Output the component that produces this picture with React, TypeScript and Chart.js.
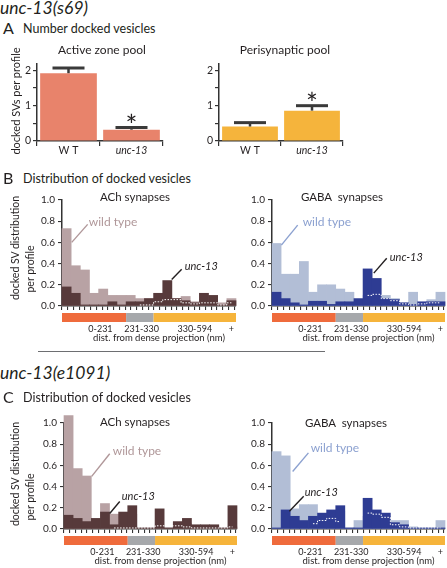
import React, { useEffect, useRef } from "react";
import { Chart, registerables } from "chart.js";

Chart.register(...registerables);

const FONT = "Lato, 'Open Sans', sans-serif";
const INK = "#231f20";
const AXIS = "#333333";

// ---------------- data: panel A ----------------
const poolGroups = ["W T", "unc-13"];
const activeZoneMean = [1.92, 0.32];
const activeZoneErrTop = [2.07, 0.38];
const perisynapticMean = [0.41, 0.86];
const perisynapticErrTop = [0.52, 1.0];
const poolSignificant = [false, true];

// ---------------- data: histograms ----------------
const distanceBins = ["0", "33", "66", "99", "132", "165", "198", "231", "264", "297", "330", "363", "396", "429", "462", "495", "528", "561", "594+"];
const distanceRegions = ["0-231", "231-330", "330-594", "+"];
const regionFirstBin = [0, 7, 10];
const regionLastBin = [6, 9, 18];
const histYTicks = [0, 0.2, 0.4, 0.6, 0.8, 1.0];

const achS69WildType = [0.73, 0.38, 0.34, 0.12, 0.16, 0.10, 0.10, 0.10, 0.07, 0.07, 0.06, 0.07, 0.07, 0.09, 0.04, 0.06, 0.05, 0.03, 0.07];
const achS69Unc13 = [0.18, 0.12, 0.01, 0.01, 0.01, 0.04, 0.01, 0.04, 0.04, 0.07, 0.12, 0.24, 0.07, 0.05, 0.03, 0.12, 0.10, 0.01, 0.05];
const achS69Dotted = [null, null, null, null, null, null, null, null, 0.01, 0.01, 0.04, 0.06, 0.06, 0.03, 0.02, 0.03, 0.03, 0.01, 0.03];

const gabaS69WildType = [0.59, 0.30, 0.30, 0.42, 0.13, 0.20, 0.20, 0.16, 0.13, 0.06, 0.10, 0.11, 0.10, 0.07, 0.03, 0.13, 0.03, 0.06, 0.13];
const gabaS69Unc13 = [0.13, 0.07, 0.03, 0.01, 0.045, 0.045, 0.015, 0.04, 0.04, 0.07, 0.35, 0.26, 0.07, 0.06, 0.03, 0.015, 0.04, 0.04, 0.04];
const gabaS69Dotted = [null, null, null, null, null, null, null, null, null, null, 0.10, 0.11, 0.07, 0.05, 0.02, 0.01, 0.02, 0.03, 0.03];

const achE1091WildType = [1.07, 0.57, 0.50, 0.08, 0.24, 0.14, 0.12, 0.14, 0.01, 0.01, 0.02, 0.01, 0.06, 0.05, 0.02, 0.02, 0.02, 0.01, 0.02];
const achE1091Unc13 = [0.13, 0.10, 0.07, 0.10, 0.16, 0.04, 0.16, 0.22, 0.01, 0.01, 0.19, 0.01, 0.07, 0.10, 0.04, 0.04, 0.04, 0.01, 0.22];
const achE1091Dotted = [null, null, null, null, null, 0.01, 0.01, 0.01, 0.01, 0.01, 0.03, 0.03, 0.03, 0.02, 0.01, 0.01, 0.01, 0.01, 0.02];

const gabaE1091WildType = [0.73, 0.69, 0.19, 0.23, 0.23, 0.13, 0.15, 0.17, 0.01, 0.08, 0.12, 0.13, 0.12, 0.08, 0.08, 0.02, 0.01, 0.01, 0.08];
const gabaE1091Unc13 = [0.01, 0.18, 0.12, 0.08, 0.12, 0.15, 0.18, 0.22, 0.01, 0.01, 0.29, 0.18, 0.15, 0.06, 0.04, 0.01, 0.01, 0.01, 0.01];
const gabaE1091Dotted = [null, null, null, null, 0.05, 0.08, 0.10, 0.07, null, null, 0.15, 0.14, 0.11, 0.04, 0.02, 0.01, 0.01, 0.01, 0.01];

// ---------------- styles / layout ----------------
const COLORS = {
  activeZone: "#e8836b",
  perisynaptic: "#f5b43c",
  achLight: "#b8a2a4",
  achDark: "#573a3b",
  gabaLight: "#b2bed6",
  gabaDark: "#2e3c93",
  achNote: "#b09799",
  gabaNote: "#8ca1d0",
  bands: ["#ef6b3c", "#a6a8ab", "#f6b43b"],
};
const regionLabelAt = [3.7, 8.2, 14.0, 18.0];
const axisTitleAt = 10.1;

type Note = { text: string; x: number; y: number; color: string; italic?: boolean; size: number; line: number[] };

function notes(wtColor: string, wt: number[], unc: number[]): Note[] {
  return [
    { text: "wild type", x: wt[0], y: wt[1], color: wtColor, size: 12, line: [wt[2], wt[3], wt[4], wt[5]] },
    { text: "unc-13", x: unc[0], y: unc[1], color: INK, italic: true, size: 11, line: [unc[2], unc[3], unc[4], unc[5]] },
  ];
}

// ---------------- chart builders ----------------
function poolConfig(means: number[], errTop: number[], color: string): any {
  const errPlugin = {
    id: "errbars",
    afterDatasetsDraw(chart: any) {
      const ctx = chart.ctx;
      const y = chart.scales.y;
      const meta = chart.getDatasetMeta(0);
      ctx.save();
      ctx.strokeStyle = "#3a3a3a";
      meta.data.forEach((bar: any, i: number) => {
        const top = y.getPixelForValue(errTop[i]);
        ctx.lineWidth = 2.5;
        ctx.beginPath();
        ctx.moveTo(bar.x, bar.y);
        ctx.lineTo(bar.x, top);
        ctx.stroke();
        ctx.lineWidth = 3;
        ctx.beginPath();
        ctx.moveTo(bar.x - 16, top);
        ctx.lineTo(bar.x + 16, top);
        ctx.stroke();
        if (poolSignificant[i]) {
          ctx.fillStyle = INK;
          ctx.font = `28px ${FONT}`;
          ctx.textAlign = "center";
          ctx.textBaseline = "alphabetic";
          ctx.fillText("*", bar.x, top + 8);
        }
      });
      ctx.restore();
    },
  };
  return {
    type: "bar",
    data: {
      labels: poolGroups,
      datasets: [{ data: means, backgroundColor: color, barPercentage: 0.9, categoryPercentage: 1, borderWidth: 0 }],
    },
    options: {
      responsive: false,
      animation: false,
      events: [],
      layout: { padding: { top: 5, right: 3, left: 0, bottom: 0 } },
      plugins: { legend: { display: false }, tooltip: { enabled: false } },
      scales: {
        x: {
          grid: { offset: true, drawOnChartArea: false, tickLength: 5, color: AXIS, lineWidth: 1.2 },
          border: { color: AXIS, width: 1.5 },
          ticks: {
            color: INK,
            padding: -2,
            font: (c: any) => ({ family: FONT, size: 10.5, style: c.index === 1 ? "italic" : "normal" }),
          },
          afterFit: (s: any) => { s.height = 20; },
        },
        y: {
          min: 0,
          max: 2.2,
          grid: { drawOnChartArea: false, tickLength: 4, color: AXIS, lineWidth: 1.2 },
          border: { color: AXIS, width: 1.5 },
          ticks: {
            stepSize: 0.5,
            includeBounds: false,
            padding: 2,
            color: INK,
            font: { family: FONT, size: 10.5 },
            callback: (v: number) => (Number.isInteger(v) ? String(v) : ""),
          },
          afterFit: (s: any) => { s.width = 17; },
        },
      },
    },
    plugins: [errPlugin],
  };
}

function histConfig(wt: number[], unc: number[], dotted: (number | null)[], light: string, dark: string, ann: Note[], tickMax: number): any {
  const bandPlugin = {
    id: "bands",
    afterDraw(chart: any) {
      const ctx = chart.ctx;
      const x = chart.scales.x;
      const y = chart.scales.y;
      const area = chart.chartArea;
      const half = (x.getPixelForValue(1) - x.getPixelForValue(0)) / 2;
      ctx.save();
      regionFirstBin.forEach((b, i) => {
        const x0 = x.getPixelForValue(b) - half;
        const x1 = x.getPixelForValue(regionLastBin[i]) + half;
        ctx.fillStyle = COLORS.bands[i];
        ctx.fillRect(x0, area.bottom + 7, x1 - x0, 9);
      });
      ctx.fillStyle = INK;
      ctx.textAlign = "center";
      ctx.textBaseline = "middle";
      ctx.font = `9px ${FONT}`;
      distanceRegions.forEach((t, i) => ctx.fillText(t, x.getPixelForValue(regionLabelAt[i]), area.bottom + 23));
      ctx.font = `9.5px ${FONT}`;
      ctx.fillText("dist. from dense projection (nm)", x.getPixelForValue(axisTitleAt), area.bottom + 31.5);
      ann.forEach((n) => {
        ctx.strokeStyle = n.color;
        ctx.lineWidth = 1.4;
        ctx.beginPath();
        ctx.moveTo(x.getPixelForValue(n.line[0]), y.getPixelForValue(n.line[1]));
        ctx.lineTo(x.getPixelForValue(n.line[2]), y.getPixelForValue(n.line[3]));
        ctx.stroke();
        ctx.fillStyle = n.color;
        ctx.textAlign = "left";
        ctx.font = `${n.italic ? "italic " : ""}${n.size}px ${FONT}`;
        ctx.fillText(n.text, x.getPixelForValue(n.x), y.getPixelForValue(n.y));
      });
      ctx.restore();
    },
  };
  const barCommon = { grouped: false, barPercentage: 1, categoryPercentage: 1, borderWidth: 0, clip: false, xAxisID: "x", yAxisID: "y" };
  return {
    type: "bar",
    data: {
      labels: distanceBins,
      datasets: [
        { type: "line", data: dotted, borderColor: "#ffffff", borderWidth: 1, borderDash: [1.5, 1.5], pointRadius: 0, stepped: "middle", order: 0, clip: false, spanGaps: false, xAxisID: "x", yAxisID: "y" },
        { ...barCommon, data: unc, backgroundColor: dark, order: 1 },
        { ...barCommon, data: wt, backgroundColor: light, order: 2 },
      ],
    },
    options: {
      responsive: false,
      animation: false,
      events: [],
      layout: { padding: { top: 10, right: 2, left: 0, bottom: 0 } },
      plugins: { legend: { display: false }, tooltip: { enabled: false } },
      scales: {
        x: { type: "category", display: false },
        xt: {
          type: "linear",
          position: "bottom",
          min: 0,
          max: tickMax,
          ticks: { display: false, stepSize: 1, includeBounds: false, autoSkip: false },
          grid: { drawOnChartArea: false, tickLength: 4, color: AXIS, lineWidth: 1.1 },
          border: { color: AXIS, width: 1.5 },
          afterFit: (s: any) => { s.height = 38; },
        },
        y: {
          min: 0,
          max: 1,
          afterBuildTicks: (s: any) => { s.ticks = histYTicks.map((v) => ({ value: v })); },
          ticks: { color: INK, padding: 3, font: { family: FONT, size: 10 }, callback: (v: number) => v.toFixed(1) },
          grid: { drawOnChartArea: false, tickLength: 4, color: AXIS, lineWidth: 1.1 },
          border: { color: AXIS, width: 1.5 },
          afterFit: (s: any) => { s.width = 32; },
        },
      },
    },
    plugins: [bandPlugin],
  };
}

// ---------------- components ----------------
function ChartBox({ left, top, width, height, make }: { left: number; top: number; width: number; height: number; make: () => any }) {
  const ref = useRef<HTMLCanvasElement>(null);
  useEffect(() => {
    const chart = new Chart(ref.current as HTMLCanvasElement, make());
    return () => chart.destroy();
  }, []);
  return <canvas ref={ref} width={width} height={height} style={{ position: "absolute", left, top, width, height }} />;
}

function Txt({ x, y, size, children, italic, align = "left", rotate, color = INK }: any) {
  const tx = align === "center" ? "-50%" : "0";
  return (
    <div
      style={{
        position: "absolute",
        left: x,
        top: y,
        transform: `translate(${tx}, -50%)${rotate ? " rotate(-90deg)" : ""}`,
        fontFamily: FONT,
        fontSize: size,
        fontStyle: italic ? "italic" : "normal",
        lineHeight: 1,
        whiteSpace: "pre",
        color,
      }}
    >
      {children}
    </div>
  );
}

export default function App() {
  return (
    <div style={{ position: "absolute", left: 0, top: 0, width: 447, height: 568, overflow: "hidden", background: "#fff" }}>
      <ChartBox left={20} top={55} width={146} height={106} make={() => poolConfig(activeZoneMean, activeZoneErrTop, COLORS.activeZone)} />
      <ChartBox left={202} top={55} width={144} height={106} make={() => poolConfig(perisynapticMean, perisynapticErrTop, COLORS.perisynaptic)} />
      <ChartBox left={30} top={190} width={208} height={154}
        make={() => histConfig(achS69WildType, achS69Unc13, achS69Dotted, COLORS.achLight, COLORS.achDark,
          notes(COLORS.achNote, [2.42, 0.79, 0.56, 0.6, 2.3, 0.77], [12.9, 0.376, 11.48, 0.25, 12.57, 0.347]), 29.3)} />
      <ChartBox left={240} top={190} width={207} height={154}
        make={() => histConfig(gabaS69WildType, gabaS69Unc13, gabaS69Dotted, COLORS.gabaLight, COLORS.gabaDark,
          notes(COLORS.gabaNote, [2.87, 0.79, 0.53, 0.574, 2.32, 0.763], [12.43, 0.46, 10.68, 0.31, 12.1, 0.45]), 29.2)} />
      <ChartBox left={32} top={413} width={207} height={154}
        make={() => histConfig(achE1091WildType, achE1091Unc13, achE1091Dotted, COLORS.achLight, COLORS.achDark,
          notes(COLORS.achNote, [4.85, 0.73, 2.54, 0.496, 4.52, 0.71], [5.84, 0.308, 4.52, 0.146, 5.62, 0.26]), 29.2)} />
      <ChartBox left={240} top={413} width={207} height={154}
        make={() => histConfig(gabaE1091WildType, gabaE1091Unc13, gabaE1091Dotted, COLORS.gabaLight, COLORS.gabaDark,
          notes(COLORS.gabaNote, [3.75, 0.765, 1.77, 0.543, 3.5, 0.718], [3.09, 0.343, 1.41, 0.167, 2.98, 0.308]), 29.2)} />

      <Txt x={0} y={8} size={17.5} italic>unc-13(s69)</Txt>
      <Txt x={3} y={28} size={16}>A</Txt>
      <Txt x={23} y={28.5} size={12.5}>Number docked vesicles</Txt>
      <Txt x={102} y={49.5} size={12}>{""}</Txt>
      <Txt x={102} y={49.5} size={12} align="center">Active zone pool</Txt>
      <Txt x={285} y={49.5} size={12} align="center">Perisynaptic pool</Txt>
      <Txt x={15} y={101} size={11} align="center" rotate>docked SVs per profile</Txt>

      <Txt x={3} y={178} size={16}>B</Txt>
      <Txt x={23} y={178.5} size={12.5}>Distribution of docked vesicles</Txt>
      <Txt x={135} y={197} size={11.5} align="center">ACh synapses</Txt>
      <Txt x={342} y={197} size={11.5} align="center">{"GABA  synapses"}</Txt>
      <Txt x={15} y={248} size={10.5} align="center" rotate>docked SV distribution</Txt>
      <Txt x={30} y={269} size={10.5} align="center" rotate>per profile</Txt>

      <div style={{ position: "absolute", left: 38, top: 350.5, width: 287, height: 1.5, background: "#6d6e71" }} />

      <Txt x={0} y={373} size={17.5} italic>unc-13(e1091)</Txt>
      <Txt x={3} y={397} size={16}>C</Txt>
      <Txt x={23} y={397.5} size={12.5}>Distribution of docked vesicles</Txt>
      <Txt x={135} y={422} size={11.5} align="center">ACh synapses</Txt>
      <Txt x={346} y={423} size={11.5} align="center">{"GABA  synapses"}</Txt>
      <Txt x={15} y={474} size={10.5} align="center" rotate>docked SV distribution</Txt>
      <Txt x={30} y={497} size={10.5} align="center" rotate>per profile</Txt>
    </div>
  );
}
